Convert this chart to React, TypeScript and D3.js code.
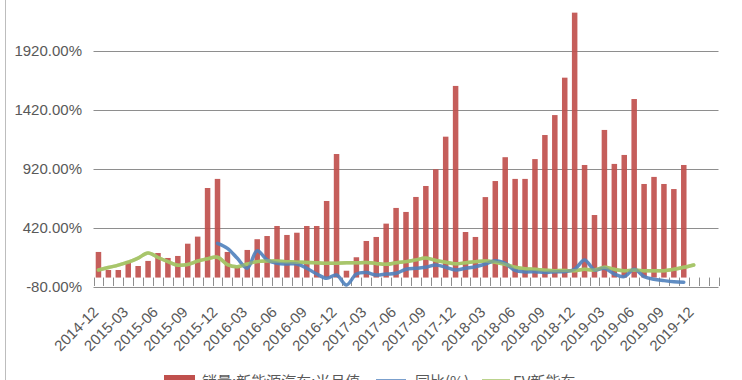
import React from "react";
import * as d3 from "d3";

const months: string[] = [
  "2014-12",
  "2015-01","2015-02","2015-03","2015-04","2015-05","2015-06","2015-07","2015-08","2015-09","2015-10","2015-11","2015-12",
  "2016-01","2016-02","2016-03","2016-04","2016-05","2016-06","2016-07","2016-08","2016-09","2016-10","2016-11","2016-12",
  "2017-01","2017-02","2017-03","2017-04","2017-05","2017-06","2017-07","2017-08","2017-09","2017-10","2017-11","2017-12",
  "2018-01","2018-02","2018-03","2018-04","2018-05","2018-06","2018-07","2018-08","2018-09","2018-10","2018-11","2018-12",
  "2019-01","2019-02","2019-03","2019-04","2019-05","2019-06","2019-07","2019-08","2019-09","2019-10","2019-11","2019-12",
  "2020-01","2020-02",
];

// 销量:新能源汽车:当月值 (2014-12 .. 2019-11)
const sales: number[] = [
  217,
  64, 64, 141, 98, 141, 208, 166, 183, 287, 347, 759, 836,
  217, 92, 234, 325, 352, 437, 361, 380, 437, 437, 649, 1047,
  58, 172, 310, 344, 457, 590, 556, 683, 776, 918, 1194, 1624,
  386, 344, 682, 818, 1020, 836, 836, 1004, 1208, 1377, 1694, 2245,
  954, 530, 1251, 963, 1039, 1513, 793, 853, 793, 750, 954,
];

// 同比(%) (2015-12 .. 2019-11)
const yoyStart = 12;
const yoy: number[] = [
  290,
  248, 163, 79, 228, 149, 121, 115, 115, 79, 30, -6, 22,
  -63, 30, 42, 22, 30, 36, 70, 79, 87, 107, 87, 64,
  79, 92, 115, 143, 120, 60, 48, 50, 42, 50, 50, 70,
  149, 64, 79, 30, 8, 70, 8, -15, -26, -35, -40,
];

// 第三系列 (2014-12 .. 2019-12)
const third: number[] = [
  64,
  85, 105, 130, 165, 208, 170, 135, 105, 110, 140, 160, 172,
  110, 92, 115, 135, 140, 140, 135, 130, 128, 125, 122, 122,
  125, 125, 128, 120, 112, 125, 135, 150, 165, 145, 130, 118,
  125, 135, 140, 130, 112, 87, 75, 70, 62, 58, 60, 58,
  70, 64, 87, 70, 58, 64, 58, 58, 58, 70, 87, 107,
];

const yTicks: number[] = [-80, 420, 920, 1420, 1920, 2420];
const labelMonths: string[] = [
  "2014-12","2015-03","2015-06","2015-09","2015-12","2016-03","2016-06","2016-09","2016-12",
  "2017-03","2017-06","2017-09","2017-12","2018-03","2018-06","2018-09","2018-12",
  "2019-03","2019-06","2019-09","2019-12",
];

const legendNames = ["销量:新能源汽车:当月值", "同比(%)", "EV新能车"];

const W = 742;
const H = 380;
const left = 93.5;
const right = 718.5;

export default function App() {
  const x = d3.scaleBand<string>().domain(months).range([left, right]).paddingInner(0).paddingOuter(0);
  const y = d3.scaleLinear().domain([-80, 2420]).range([287, -8]);
  const bw = 5.5;
  const cx = (m: string) => (x(m) as number) + x.bandwidth() / 2;

  const lineGen = d3
    .line<{ m: string; v: number }>()
    .x((d) => cx(d.m))
    .y((d) => y(d.v))
    .curve(d3.curveCatmullRom.alpha(0.5));

  const yoyData = yoy.map((v, i) => ({ m: months[i + yoyStart], v }));
  const thirdData = third.map((v, i) => ({ m: months[i], v }));

  const font = "'Liberation Sans', Arial, sans-serif";
  const cjk = "'Noto Sans CJK SC', 'Liberation Sans', sans-serif";
  const textColor = "#595959";
  const gridColor = "#8e8e8e";

  const y0 = y(0);
  const yb = y(-80);

  return (
    <svg width={W} height={H} style={{ position: "absolute", left: 0, top: 0, background: "#fff" }}>
      {/* frame */}
      <line x1={5.5} x2={5.5} y1={0} y2={H} stroke="#bdbdbd" strokeWidth={1} />
      {/* gridlines + y labels */}
      {yTicks.map((t) => (
        <g key={t}>
          <line x1={left} x2={right} y1={Math.round(y(t)) + 0.5} y2={Math.round(y(t)) + 0.5} stroke={gridColor} strokeWidth={1} />
          <text x={82} y={y(t)} dy="0.36em" textAnchor="end" fontFamily={font} fontSize={15} fill={textColor}>
            {t.toFixed(2) + "%"}
          </text>
        </g>
      ))}
      {/* bars */}
      {sales.map((v, i) => (
        <rect
          key={i}
          x={cx(months[i]) - bw / 2}
          y={y(v)}
          width={bw}
          height={y0 - y(v)}
          fill="#C0504D"
          opacity={0.92}
        />
      ))}
      {/* category ticks */}
      {months.concat(["__end"]).map((m, i) => {
        const xx = i < months.length ? (x(m) as number) : right;
        return <line key={"t" + i} x1={Math.round(xx) + 0.5} x2={Math.round(xx) + 0.5} y1={y0} y2={yb - 1} stroke={gridColor} strokeWidth={1} />;
      })}
      {/* lines */}
      <path d={lineGen(thirdData) || ""} fill="none" stroke="#A5C467" strokeWidth={3.5} strokeLinejoin="round" strokeLinecap="round" opacity={0.95} />
      <path d={lineGen(yoyData) || ""} fill="none" stroke="#4F81BD" strokeWidth={3.5} strokeLinejoin="round" strokeLinecap="round" opacity={0.9} />
      <path d={lineGen(thirdData) || ""} fill="none" stroke="#A5C467" strokeWidth={3.5} strokeLinejoin="round" strokeLinecap="round" opacity={0.55} />
      {/* x labels */}
      {labelMonths.map((m) => (
        <text
          key={m}
          transform={`translate(${cx(m) + 1},${313}) rotate(-45)`}
          textAnchor="end"
          fontFamily={font}
          fontSize={15}
          fill={textColor}
        >
          {m}
        </text>
      ))}
      {/* legend */}
      <rect x={164} y={375} width={31} height={14} fill="#C0504D" />
      <text x={202} y={387} fontFamily={cjk} fontSize={15} fill={textColor}>{legendNames[0]}</text>
      <line x1={376} x2={406} y1={381} y2={381} stroke="#4F81BD" strokeWidth={3.5} />
      <text x={415} y={387} fontFamily={cjk} fontSize={15} fill={textColor}>{legendNames[1]}</text>
      <line x1={482} x2={510} y1={381} y2={381} stroke="#A5C467" strokeWidth={3.5} />
      <text x={513} y={387} fontFamily={cjk} fontSize={15} fill={textColor}>{legendNames[2]}</text>
    </svg>
  );
}
